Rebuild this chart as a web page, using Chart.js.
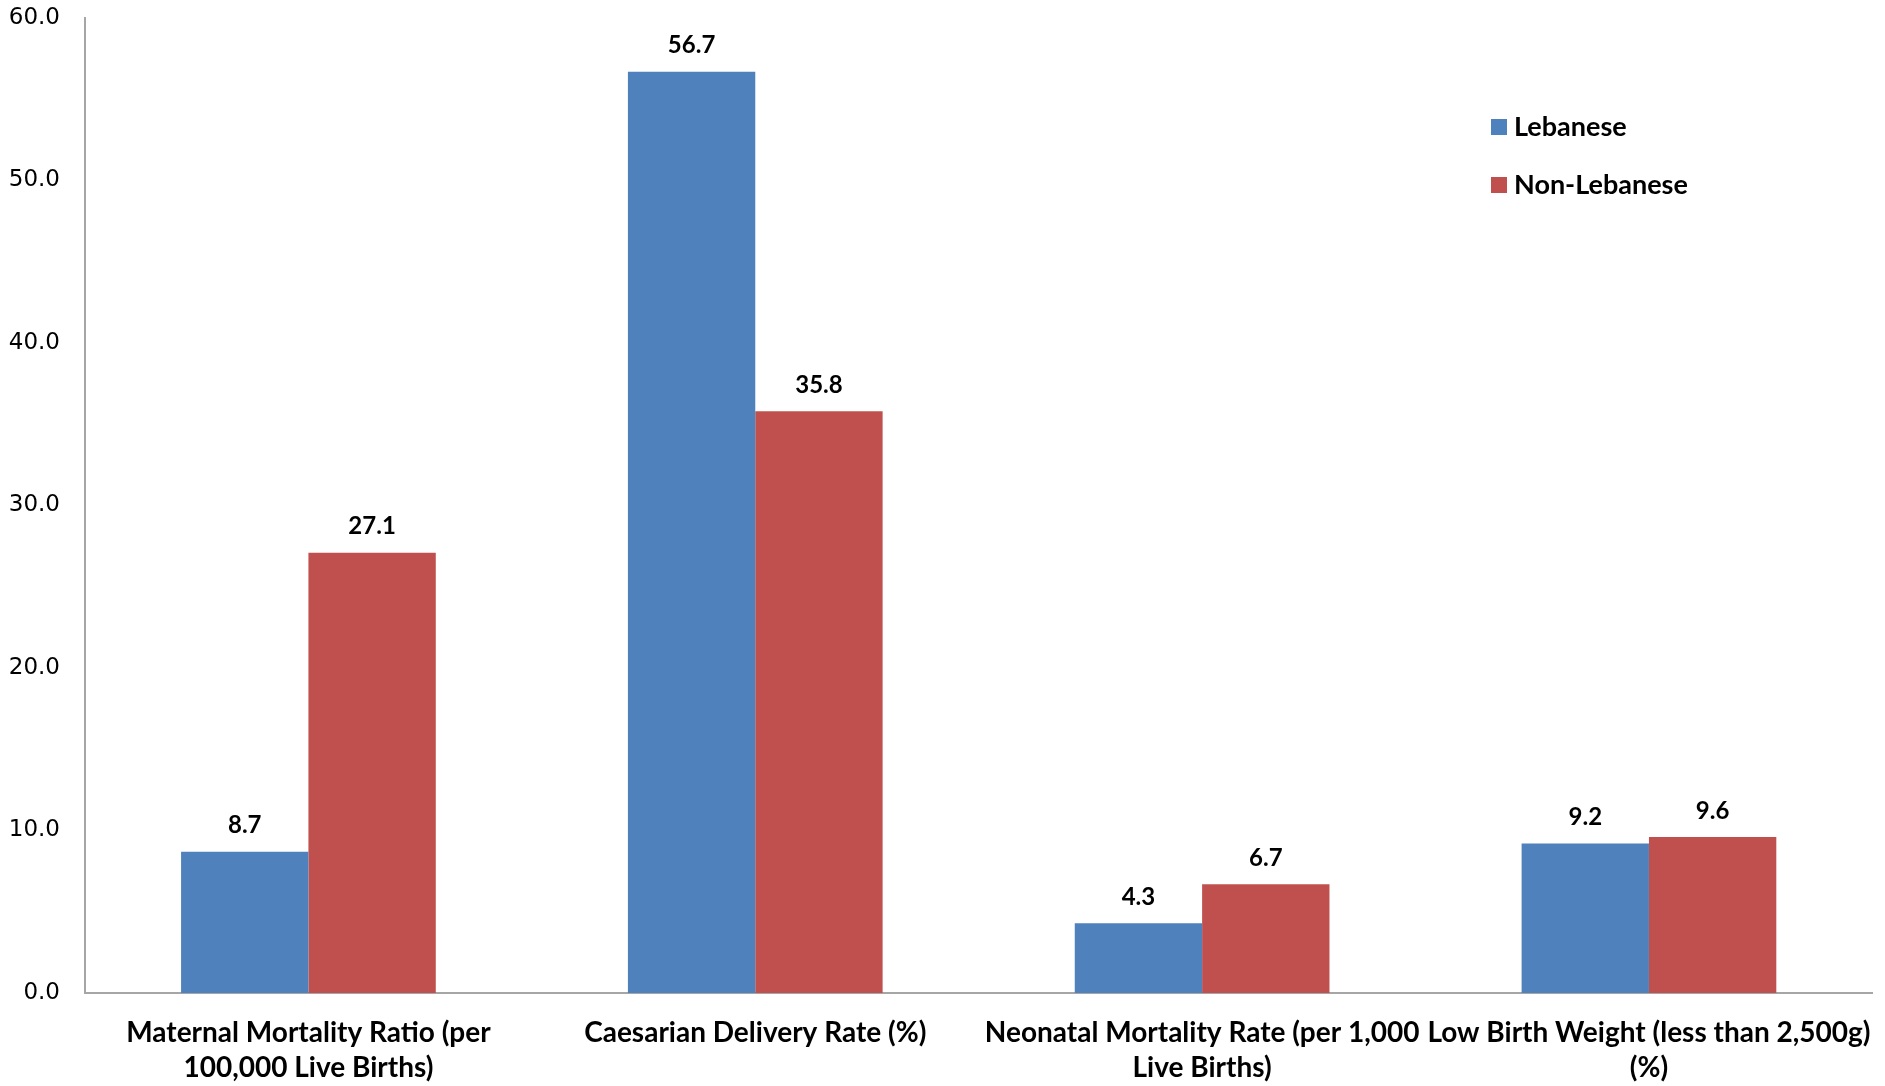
<!DOCTYPE html>
<html lang="en">
<head>
    <meta charset="UTF-8">
    <title>Lebanese vs Non-Lebanese indicators</title>
    <script src="https://cdn.jsdelivr.net/npm/chart.js"></script>
    <style>
        html, body { margin: 0; padding: 0; background: #fff; }
        #wrap { width: 1885px; height: 1086px; }
    </style>
</head>
<body>
<div id="wrap"><canvas id="grafico"></canvas></div>
<script>
// data
const categorias = [
    ['Maternal Mortality Ratio (per', '100,000 Live Births)'],
    'Caesarian Delivery Rate (%)',
    ['Neonatal Mortality Rate (per 1,000', 'Live Births)'],
    ['Low Birth Weight (less than 2,500g)', '(%)']
];
const lebanese = [8.7, 56.7, 4.3, 9.2];
const nonLebanese = [27.1, 35.8, 6.7, 9.6];
const nomesSeries = ['Lebanese', 'Non-Lebanese'];

const fonteBold = 'Lato, "Open Sans", sans-serif';

// values above each bar
const rotulosValores = {
    id: 'rotulosValores',
    afterDatasetsDraw(chart) {
        const ctx = chart.ctx;
        ctx.save();
        ctx.font = 'bold 24px ' + fonteBold;
        ctx.fillStyle = '#000';
        ctx.textAlign = 'center';
        ctx.textBaseline = 'middle';
        chart.data.datasets.forEach((ds, i) => {
            chart.getDatasetMeta(i).data.forEach((bar, j) => {
                ctx.fillText(ds.data[j].toFixed(1), bar.x, bar.y - 26);
            });
        });
        ctx.restore();
    }
};

// legend in the upper right corner of the plot
const legendaCanto = {
    id: 'legendaCanto',
    afterDraw(chart) {
        const ctx = chart.ctx;
        ctx.save();
        ctx.font = 'bold 27px ' + fonteBold;
        ctx.textBaseline = 'middle';
        chart.data.datasets.forEach((ds, i) => {
            const y = 127 + i * 58;
            ctx.fillStyle = ds.backgroundColor;
            ctx.fillRect(1491, y - 8, 16, 16);
            ctx.fillStyle = '#000';
            ctx.fillText(ds.label, 1514, y);
        });
        ctx.restore();
    }
};

const ctx = document.getElementById('grafico').getContext('2d');
new Chart(ctx, {
    type: 'bar',
    data: {
        labels: categorias,
        datasets: [
            { label: nomesSeries[0], data: lebanese, backgroundColor: '#4F81BD' },
            { label: nomesSeries[1], data: nonLebanese, backgroundColor: '#C0504D' }
        ]
    },
    options: {
        responsive: true,
        maintainAspectRatio: false,
        animation: false,
        devicePixelRatio: 1,
        categoryPercentage: 0.57,
        barPercentage: 1.0,
        layout: { padding: { top: 18, right: 4, left: 0, bottom: 0 } },
        plugins: {
            legend: { display: false },
            tooltip: { enabled: false }
        },
        scales: {
            x: {
                grid: { display: false },
                border: { display: true, color: '#A6A6A6', width: 2 },
                ticks: {
                    color: '#000',
                    font: { family: fonteBold, size: 28, weight: 'bold', lineHeight: 1.25 },
                    padding: 14,
                    maxRotation: 0,
                    autoSkip: false
                },
                afterFit(s) { s.height = 93; }
            },
            y: {
                min: 0,
                max: 60,
                grid: { display: false },
                border: { display: true, color: '#A6A6A6', width: 2 },
                ticks: {
                    stepSize: 10,
                    color: '#000',
                    font: { family: '"DejaVu Sans", sans-serif', size: 23 },
                    padding: 17,
                    callback: v => v.toFixed(1)
                },
                afterFit(s) { s.width = 85; s.paddingTop = 0; s.paddingBottom = 0; }
            }
        }
    },
    plugins: [rotulosValores, legendaCanto]
});
</script>
</body>
</html>
